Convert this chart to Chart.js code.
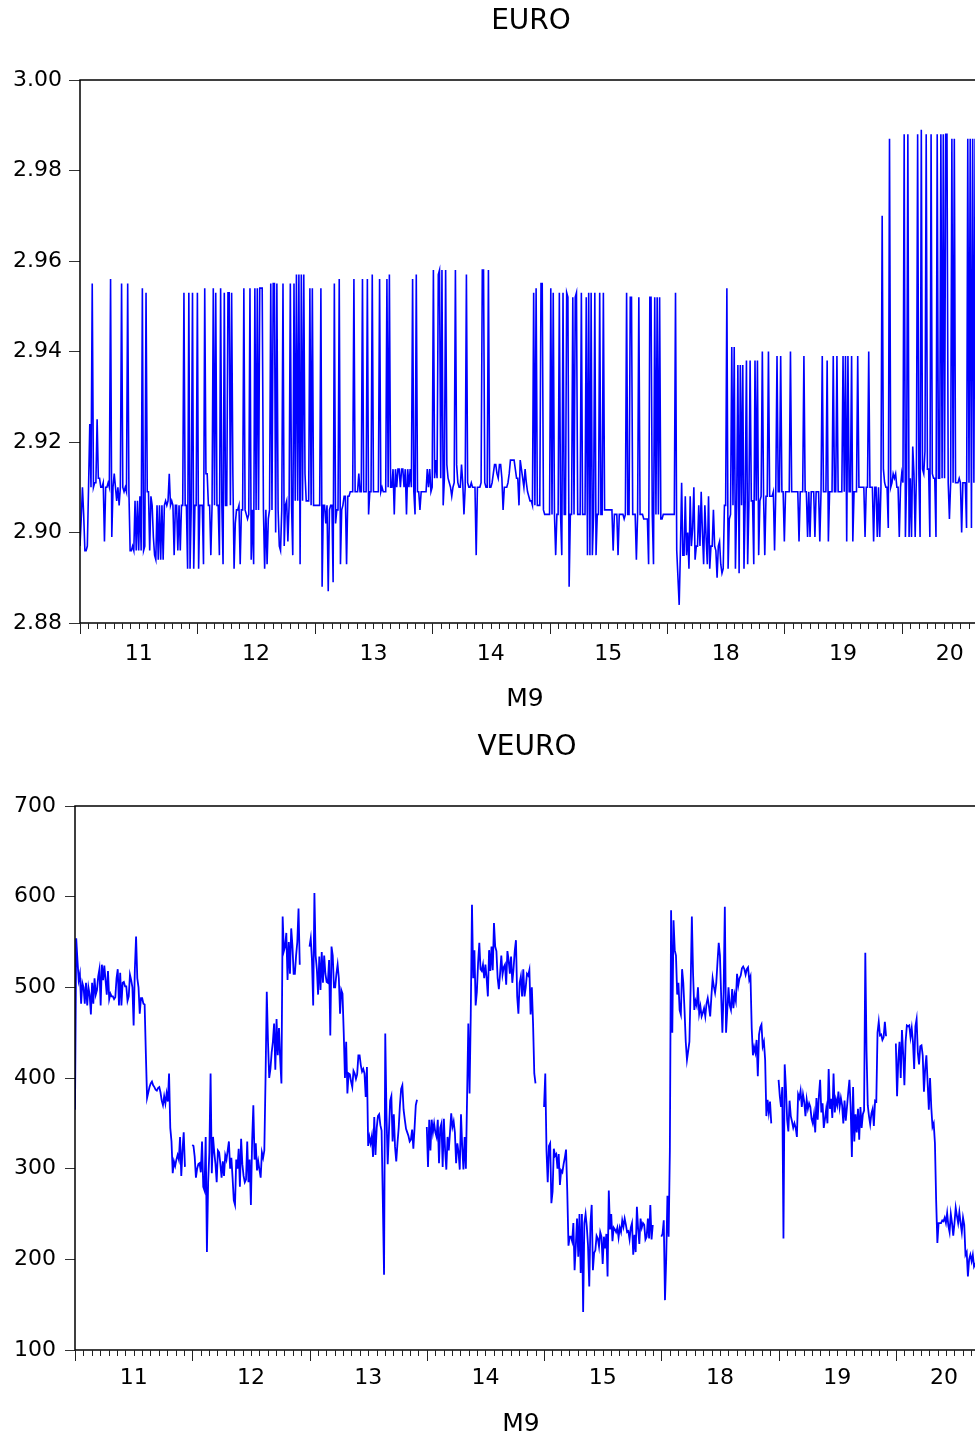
<!DOCTYPE html>
<html>
<head>
<meta charset="utf-8">
<title>EURO / VEURO</title>
<script src="https://cdn.jsdelivr.net/npm/chart.js"></script>
<style>
  html, body { margin: 0; padding: 0; background: #fff; overflow: hidden; }
  #page { position: relative; width: 975px; height: 1439px; overflow: hidden; }
  .panel { position: absolute; left: 0; }
</style>
</head>
<body>
<div id="page">
  <div class="panel" style="top:0"><canvas id="euro" width="1010" height="725"></canvas></div>
  <div class="panel" style="top:725px"><canvas id="veuro" width="1010" height="714"></canvas></div>
</div>
<script>
// trading days in September; one array per day (96 obs), the last session is cut short
const dayLabels = ['11', '12', '13', '14', '15', '18', '19', '20'];

// EURO quotes
const euro11 = [2.897, 2.903, 2.910, 2.904, 2.896, 2.896, 2.897, 2.910, 2.924, 2.910, 2.955, 2.910, 2.911, 2.911, 2.925, 2.912,
  2.912, 2.910, 2.910, 2.911, 2.898, 2.910, 2.910, 2.911, 2.910, 2.956, 2.899, 2.910, 2.913, 2.910, 2.907, 2.910,
  2.906, 2.910, 2.955, 2.910, 2.909, 2.910, 2.909, 2.955, 2.909, 2.896, 2.896, 2.897, 2.896, 2.907, 2.896, 2.907,
  2.896, 2.908, 2.896, 2.954, 2.896, 2.897, 2.953, 2.909, 2.909, 2.896, 2.908, 2.906, 2.899, 2.895, 2.894, 2.906,
  2.894, 2.906, 2.894, 2.906, 2.894, 2.906, 2.907, 2.906, 2.907, 2.913, 2.906, 2.907, 2.906, 2.895, 2.906, 2.906,
  2.896, 2.906, 2.896, 2.906, 2.906, 2.953, 2.906, 2.906, 2.892, 2.953, 2.892, 2.906, 2.953, 2.892, 2.906, 2.906];
const euro12 = [2.953, 2.892, 2.906, 2.906, 2.906, 2.893, 2.954, 2.913, 2.913, 2.906, 2.906, 2.895, 2.906, 2.954, 2.906, 2.953,
  2.906, 2.906, 2.895, 2.954, 2.906, 2.893, 2.953, 2.906, 2.906, 2.953, 2.953, 2.906, 2.953, 2.913, 2.892, 2.902,
  2.905, 2.905, 2.906, 2.893, 2.905, 2.905, 2.954, 2.905, 2.904, 2.903, 2.904, 2.954, 2.894, 2.905, 2.893, 2.954,
  2.905, 2.954, 2.905, 2.954, 2.954, 2.954, 2.905, 2.892, 2.905, 2.893, 2.903, 2.905, 2.955, 2.905, 2.955, 2.955,
  2.900, 2.955, 2.905, 2.897, 2.896, 2.905, 2.955, 2.897, 2.906, 2.907, 2.898, 2.906, 2.955, 2.906, 2.895, 2.955,
  2.907, 2.957, 2.907, 2.957, 2.893, 2.957, 2.907, 2.957, 2.913, 2.907, 2.907, 2.907, 2.954, 2.906, 2.954, 2.906];
const euro13 = [2.906, 2.906, 2.906, 2.906, 2.906, 2.954, 2.888, 2.906, 2.906, 2.902, 2.906, 2.887, 2.905, 2.906, 2.906, 2.889,
  2.955, 2.902, 2.905, 2.905, 2.956, 2.893, 2.905, 2.906, 2.908, 2.908, 2.893, 2.908, 2.908, 2.909, 2.909, 2.909,
  2.956, 2.909, 2.909, 2.909, 2.913, 2.909, 2.909, 2.956, 2.909, 2.909, 2.909, 2.956, 2.904, 2.909, 2.909, 2.957,
  2.909, 2.909, 2.909, 2.909, 2.909, 2.956, 2.909, 2.910, 2.909, 2.909, 2.909, 2.956, 2.910, 2.957, 2.910, 2.910,
  2.914, 2.904, 2.914, 2.910, 2.914, 2.914, 2.910, 2.914, 2.914, 2.910, 2.914, 2.904, 2.914, 2.910, 2.914, 2.910,
  2.956, 2.909, 2.904, 2.957, 2.909, 2.909, 2.905, 2.909, 2.909, 2.909, 2.909, 2.909, 2.914, 2.910, 2.914, 2.909];
const euro14 = [2.910, 2.958, 2.912, 2.916, 2.912, 2.957, 2.958, 2.912, 2.958, 2.906, 2.912, 2.958, 2.915, 2.912, 2.911, 2.910,
  2.908, 2.910, 2.911, 2.958, 2.915, 2.911, 2.910, 2.910, 2.915, 2.911, 2.904, 2.910, 2.957, 2.911, 2.910, 2.910,
  2.911, 2.910, 2.910, 2.910, 2.895, 2.910, 2.910, 2.910, 2.911, 2.958, 2.958, 2.911, 2.910, 2.910, 2.958, 2.910,
  2.910, 2.911, 2.913, 2.915, 2.915, 2.913, 2.912, 2.915, 2.915, 2.912, 2.905, 2.910, 2.910, 2.910, 2.911, 2.913,
  2.916, 2.916, 2.916, 2.916, 2.914, 2.912, 2.912, 2.906, 2.916, 2.914, 2.912, 2.910, 2.914, 2.911, 2.909, 2.908,
  2.907, 2.907, 2.906, 2.953, 2.906, 2.954, 2.906, 2.906, 2.906, 2.955, 2.955, 2.905, 2.904, 2.904, 2.904, 2.904];
const euro15 = [2.904, 2.954, 2.904, 2.953, 2.904, 2.895, 2.904, 2.904, 2.953, 2.904, 2.895, 2.953, 2.904, 2.904, 2.953, 2.952,
  2.888, 2.904, 2.904, 2.952, 2.904, 2.952, 2.953, 2.904, 2.904, 2.904, 2.953, 2.904, 2.904, 2.904, 2.952, 2.895,
  2.953, 2.895, 2.953, 2.895, 2.904, 2.953, 2.895, 2.904, 2.904, 2.953, 2.904, 2.904, 2.953, 2.905, 2.905, 2.905,
  2.905, 2.905, 2.905, 2.905, 2.896, 2.904, 2.904, 2.904, 2.895, 2.904, 2.904, 2.904, 2.904, 2.903, 2.904, 2.953,
  2.904, 2.904, 2.952, 2.952, 2.904, 2.904, 2.904, 2.894, 2.904, 2.952, 2.904, 2.904, 2.904, 2.903, 2.903, 2.903,
  2.903, 2.893, 2.952, 2.952, 2.904, 2.893, 2.952, 2.904, 2.952, 2.904, 2.952, 2.903, 2.903, 2.904, 2.904, 2.904];
const euro18 = [2.904, 2.904, 2.904, 2.904, 2.904, 2.904, 2.904, 2.953, 2.896, 2.890, 2.884, 2.896, 2.911, 2.895, 2.895, 2.908,
  2.895, 2.900, 2.892, 2.908, 2.897, 2.901, 2.910, 2.894, 2.897, 2.897, 2.906, 2.897, 2.909, 2.900, 2.893, 2.906,
  2.899, 2.893, 2.908, 2.892, 2.897, 2.897, 2.905, 2.897, 2.896, 2.890, 2.897, 2.898, 2.893, 2.891, 2.892, 2.906,
  2.906, 2.954, 2.892, 2.903, 2.904, 2.941, 2.906, 2.941, 2.892, 2.906, 2.937, 2.891, 2.937, 2.906, 2.937, 2.892,
  2.907, 2.938, 2.893, 2.906, 2.938, 2.907, 2.907, 2.893, 2.938, 2.907, 2.938, 2.895, 2.907, 2.908, 2.940, 2.908,
  2.895, 2.908, 2.908, 2.940, 2.908, 2.908, 2.908, 2.909, 2.896, 2.909, 2.939, 2.909, 2.909, 2.939, 2.909, 2.909];
const euro19 = [2.898, 2.909, 2.909, 2.909, 2.909, 2.940, 2.909, 2.909, 2.909, 2.909, 2.909, 2.909, 2.898, 2.909, 2.909, 2.909,
  2.939, 2.909, 2.909, 2.899, 2.909, 2.899, 2.909, 2.909, 2.909, 2.899, 2.909, 2.909, 2.909, 2.898, 2.909, 2.939,
  2.909, 2.909, 2.909, 2.938, 2.898, 2.909, 2.909, 2.909, 2.939, 2.909, 2.909, 2.939, 2.909, 2.909, 2.909, 2.909,
  2.939, 2.909, 2.939, 2.898, 2.939, 2.909, 2.909, 2.939, 2.898, 2.909, 2.909, 2.909, 2.939, 2.910, 2.910, 2.910,
  2.910, 2.910, 2.899, 2.910, 2.910, 2.940, 2.910, 2.910, 2.910, 2.898, 2.910, 2.910, 2.899, 2.910, 2.899, 2.910,
  2.970, 2.914, 2.911, 2.910, 2.910, 2.901, 2.987, 2.910, 2.911, 2.913, 2.912, 2.913, 2.910, 2.910, 2.899, 2.910];
const euro20 = [2.913, 2.911, 2.988, 2.899, 2.912, 2.988, 2.899, 2.912, 2.899, 2.919, 2.913, 2.899, 2.913, 2.988, 2.913, 2.899,
  2.989, 2.914, 2.913, 2.918, 2.988, 2.914, 2.914, 2.899, 2.988, 2.913, 2.912, 2.912, 2.899, 2.988, 2.912, 2.912,
  2.988, 2.912, 2.988, 2.912, 2.988, 2.988, 2.911, 2.903, 2.911, 2.987, 2.911, 2.987, 2.911, 2.911, 2.911, 2.912,
  2.911, 2.900, 2.911, 2.911, 2.911, 2.901, 2.987, 2.911, 2.987, 2.901, 2.987, 2.911, 2.987, 2.911, 2.986, 2.911,
  2.987, 2.912, 2.900, 2.911, 2.986, 2.911, 2.987, 2.912, 2.911, 2.986, 2.911, 2.900, 2.911, 2.912];

// VEURO; null marks the missing end-of-session readings
const veuro11 = [365, 554, 530, 508, 515, 482, 505, 500, 482, 505, 480, 500, 492, 470, 505, 482,
  510, 492, 497, 512, 520, 480, 525, 508, 524, 508, 492, 518, 487, 493, 490, 490,
  487, 489, 510, 520, 480, 516, 480, 505, 506, 501, 501, 485, 490, 514, 508, 500,
  458, 520, 556, 510, 500, 471, 488, 488, 482, 481, 427, 378, 384, 390, 394, 396,
  392, 390, 387, 386, 389, 390, 384, 375, 370, 380, 372, 383, 374, 405, 345, 330,
  295, 308, 303, 310, 315, 310, 335, 292, 320, 340, 302, null, null, null, null, null];
const veuro12 = [326, 325, 313, 290, 300, 305, 306, 296, 330, 280, 276, 335, 208, 285, 318, 405,
  295, 335, 318, 305, 285, 320, 318, 305, 290, 308, 292, 315, 310, 320, 330, 300,
  312, 290, 265, 260, 310, 300, 322, 280, 333, 305, 292, 285, 288, 330, 285, 310,
  260, 330, 370, 310, 328, 298, 308, 299, 290, 318, 312, 320, 400, 495, 440, 400,
  410, 428, 440, 460, 409, 465, 425, 455, 420, 394, 578, 540, 545, 560, 508, 550,
  515, 565, 546, 515, 515, 535, 550, 587, 525, null, null, null, null, null, null, null];
const veuro13 = [545, 554, 530, 480, 604, 535, 520, 492, 534, 497, 539, 505, 535, 515, 506, 505,
  530, 447, 545, 535, 500, 500, 515, 525, 510, 471, 497, 493, 450, 400, 440, 383,
  405, 404, 396, 390, 408, 405, 399, 404, 425, 425, 414, 407, 410, 405, 379, 412,
  325, 335, 328, 336, 313, 357, 315, 345, 358, 360, 348, 342, 265, 183, 449, 360,
  305, 340, 375, 380, 330, 360, 324, 308, 328, 345, 370, 388, 392, 365, 354, 344,
  340, 336, 330, 332, 343, 322, 345, 370, 376, null, null, null, null, null, null, null];
const veuro14 = [346, 302, 354, 320, 354, 340, 350, 340, 335, 354, 306, 345, 350, 302, 355, 320,
  299, 335, 320, 340, 361, 346, 352, 340, 306, 328, 318, 299, 360, 324, 299, 335,
  300, 380, 460, 383, 470, 591, 510, 541, 480, 495, 527, 549, 520, 518, 525, 510,
  525, 510, 490, 541, 518, 545, 519, 571, 545, 540, 510, 498, 515, 535, 514, 522,
  525, 503, 540, 530, 515, 534, 505, 520, 540, 552, 490, 471, 505, 512, 490, 520,
  490, 500, 515, 513, 519, 470, 500, 460, 405, 394, null, null, null, null, null, null];
const veuro15 = [368, 405, 320, 285, 325, 328, 262, 275, 322, 314, 316, 300, 316, 282, 298, 296,
  305, 312, 321, 275, 215, 225, 225, 220, 240, 188, 215, 245, 203, 250, 185, 250,
  142, 240, 250, 236, 215, 170, 240, 260, 188, 207, 210, 226, 223, 214, 230, 225,
  195, 225, 212, 228, 181, 276, 233, 250, 220, 235, 233, 230, 235, 224, 235, 230,
  243, 236, 245, 238, 230, 231, 222, 235, 240, 205, 227, 208, 258, 234, 217, 245,
  235, 240, 238, 222, 225, 245, 223, 260, 222, 238, null, null, null, null, null, null];
const veuro18 = [225, 228, 243, 155, 200, 270, 225, 320, 585, 450, 574, 541, 535, 492, 505, 475,
  470, 520, 505, 475, 440, 420, 430, 440, 500, 578, 515, 475, 485, 480, 500, 471,
  479, 468, 472, 477, 468, 482, 488, 479, 468, 490, 510, 501, 494, 505, 528, 549,
  535, 490, 450, 495, 589, 450, 475, 500, 480, 475, 498, 477, 492, 485, 515, 502,
  510, 513, 521, 523, 520, 514, 520, 522, 508, 512, 455, 425, 434, 428, 442, 402,
  448, 456, 459, 435, 440, 420, 358, 376, 362, 374, 350, null, null, null, null, null];
const veuro19 = [398, 380, 368, 390, 223, 415, 390, 354, 341, 375, 358, 352, 345, 350, 345, 335,
  382, 378, 386, 368, 382, 374, 358, 376, 366, 372, 368, 355, 350, 360, 340, 378,
  354, 380, 398, 362, 372, 345, 355, 366, 350, 410, 366, 377, 356, 405, 362, 376,
  370, 385, 368, 378, 370, 350, 375, 353, 368, 384, 398, 368, 313, 390, 330, 360,
  340, 366, 332, 368, 345, 360, 364, 538, 430, 370, 358, 349, 361, 366, 347, 375,
  374, 450, 462, 447, 448, 442, 445, 462, 446, null, null, null, null, null, null, null];
const veuro20 = [438, 380, 420, 440, 400, 453, 427, 392, 440, 458, 457, 458, 445, 455, 440, 410,
  457, 465, 428, 415, 435, 436, 425, 385, 410, 425, 395, 365, 400, 368, 346, 350,
  328, 265, 218, 240, 240, 240, 243, 242, 246, 240, 251, 237, 230, 250, 240, 226,
  240, 257, 248, 240, 252, 240, 230, 246, 238, 205, 208, 181, 200, 205, 198, 205,
  192, 195, 190, 200, 188, 196, 192, 199, 190, 194, 197, 191, 195, 193];

const euroTicks = [2.88, 2.90, 2.92, 2.94, 2.96, 2.98, 3.00];
const veuroTicks = [100, 200, 300, 400, 500, 600, 700];

const PER_DAY = 96;
const MINOR = 14;      // minor tick marks per day
const X_MAX = 7.82;    // the last session is cut short

// lay the per-day arrays out on a continuous day axis
function toPoints(days) {
  const pts = [];
  days.forEach((vals, d) => vals.forEach((v, i) => pts.push({ x: d + i / PER_DAY, y: v })));
  return pts;
}

// box around the plot, day tick marks, panel title and axis caption
const framePlugin = {
  id: 'frame',
  afterDraw(chart, args, opts) {
    const { ctx, chartArea: a } = chart;
    const x = chart.scales.x;
    ctx.save();
    ctx.strokeStyle = '#000';
    ctx.lineWidth = 1.5;
    ctx.strokeRect(a.left, a.top, a.right - a.left, a.bottom - a.top);
    ctx.lineWidth = 1;
    ctx.strokeStyle = '#222';
    for (let k = 0; k <= Math.floor(X_MAX * MINOR); k++) {
      const px = Math.round(x.getPixelForValue(k / MINOR)) + 0.5;
      const len = k % MINOR === 0 ? 11 : 6;
      ctx.beginPath();
      ctx.moveTo(px, a.bottom);
      ctx.lineTo(px, a.bottom + len);
      ctx.stroke();
    }
    ctx.fillStyle = '#000';
    ctx.textAlign = 'center';
    ctx.textBaseline = 'middle';
    ctx.font = '28px "DejaVu Sans"';
    ctx.fillText(opts.title, opts.titleX, opts.titleY);
    ctx.font = '25px "DejaVu Sans"';
    ctx.fillText('M9', opts.captionX, opts.captionY);
    ctx.restore();
  }
};

const tickFont = { family: 'DejaVu Sans', size: 22 };

function makeChart(id, days, cfg) {
  return new Chart(document.getElementById(id), {
    type: 'line',
    data: {
      datasets: [{
        data: toPoints(days),
        borderColor: '#0000ff',
        borderWidth: cfg.lineWidth,
        pointRadius: 0,
        tension: 0,
        spanGaps: false
      }]
    },
    options: {
      responsive: false,
      animation: false,
      events: [],
      parsing: false,
      layout: { padding: { top: cfg.padTop, right: cfg.padRight, left: 0, bottom: 0 } },
      plugins: {
        legend: { display: false },
        tooltip: { enabled: false },
        frame: cfg.frame
      },
      scales: {
        x: {
          type: 'linear',
          min: 0,
          max: X_MAX,
          grid: { display: false, drawTicks: false },
          border: { display: false },
          afterBuildTicks: s => {
            s.ticks = dayLabels.map((_, d) => ({ value: (d + Math.min(d + 1, X_MAX)) / 2 }));
          },
          afterFit: s => { s.height = cfg.xHeight; },
          ticks: {
            autoSkip: false,
            maxRotation: 0,
            padding: cfg.xPad,
            color: '#000',
            font: tickFont,
            callback: (v, i) => dayLabels[i]
          }
        },
        y: {
          min: cfg.yTicks[0],
          max: cfg.yTicks[cfg.yTicks.length - 1],
          afterBuildTicks: s => { s.ticks = cfg.yTicks.map(v => ({ value: v })); },
          afterFit: s => { s.width = cfg.yWidth; },
          grid: { drawOnChartArea: false, drawTicks: true, tickLength: cfg.yTickLen, tickColor: '#333', tickWidth: 1 },
          border: { display: false },
          ticks: {
            padding: cfg.yPad,
            color: '#000',
            font: tickFont,
            callback: cfg.fmt
          }
        }
      }
    },
    plugins: [framePlugin]
  });
}

makeChart('euro', [euro11, euro12, euro13, euro14, euro15, euro18, euro19, euro20], {
  lineWidth: 1.6,
  padTop: 80, padRight: 12, xHeight: 102, yWidth: 80, xPad: 18, yPad: 7, yTickLen: 11,
  yTicks: euroTicks,
  fmt: v => v.toFixed(2),
  frame: { title: 'EURO', titleX: 531, titleY: 22, captionX: 525, captionY: 699 }
});

makeChart('veuro', [veuro11, veuro12, veuro13, veuro14, veuro15, veuro18, veuro19, veuro20], {
  lineWidth: 1.8,
  padTop: 81, padRight: 18, xHeight: 89, yWidth: 75, xPad: 15, yPad: 9, yTickLen: 10,
  yTicks: veuroTicks,
  fmt: v => String(v),
  frame: { title: 'VEURO', titleX: 527, titleY: 23, captionX: 521, captionY: 699 }
});
</script>
</body>
</html>
